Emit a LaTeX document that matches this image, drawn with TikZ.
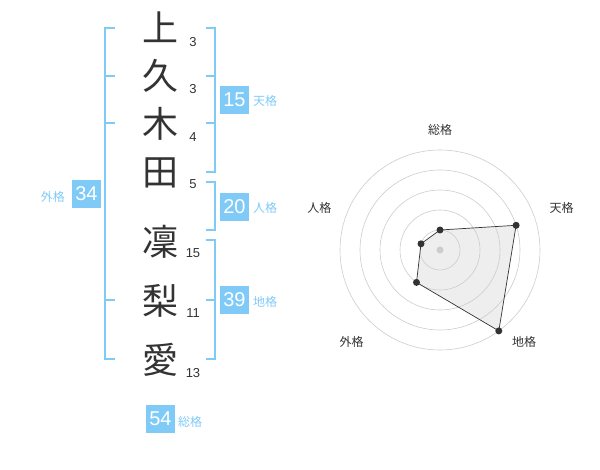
\documentclass[tikz,border=0pt]{standalone}
\usepackage{fontspec}
\setmainfont{Liberation Sans}
\newfontfamily\jp{Noto Sans CJK JP}
\definecolor{kblue}{RGB}{128,202,248}
\definecolor{kdark}{RGB}{51,51,51}
\definecolor{kgrid}{RGB}{204,204,204}
\definecolor{kfill}{RGB}{238,238,238}
\begin{document}
\begin{tikzpicture}[x=1pt,y=-1pt,
  kanji/.style={font=\jp\fontsize{36}{36}\selectfont, text=kdark, inner sep=0pt},
  strokes/.style={font=\fontsize{13}{13}\selectfont, text=kdark, inner sep=0pt},
  numbox/.style={fill=kblue, text=white, minimum width=29pt, minimum height=28pt, inner sep=0pt, font=\fontsize{20}{20}\selectfont},
  kaku/.style={font=\jp\fontsize{12}{12}\selectfont, text=kblue, inner sep=0pt},
  brk/.style={draw=kblue, line width=1.6pt},
  ring/.style={draw=kgrid, line width=0.6pt},
  axlabel/.style={font=\jp\fontsize{12}{12}\selectfont, text=kdark, inner sep=0pt},
  pt/.style={circle, fill=kdark, minimum size=7pt, inner sep=0pt}]
\useasboundingbox (0,0) rectangle (600,470);
% kanji
\node[kanji] (k1) at (160,27) {上};
\node[kanji] (k2) at (160,76) {久};
\node[kanji] (k3) at (160,124) {木};
\node[kanji] (k4) at (160,173) {田};
\node[kanji] (k5) at (160,242) {凜};
\node[kanji] (k6) at (160,301) {梨};
\node[kanji] (k7) at (160,360) {愛};
% stroke counts
\node[strokes] (s1) at (193,42) {3};
\node[strokes] (s2) at (193,89) {3};
\node[strokes] (s3) at (193,137) {4};
\node[strokes] (s4) at (193,184) {5};
\node[strokes] (s5) at (193,253) {15};
\node[strokes] (s6) at (193,313) {11};
\node[strokes] (s7) at (193,373) {13};
% left bracket (gaikaku)
\draw[brk] (115,28.3) -- (105,28.3) -- (105,359.3) -- (115,359.3);
\draw[brk] (105,76) -- (115,76);
\draw[brk] (105,123.3) -- (115,123.3);
\draw[brk] (105,300) -- (115,300);
% right brackets
\draw[brk] (205.7,28.3) -- (215,28.3) -- (215,172) -- (205.7,172);
\draw[brk] (205.7,76) -- (215,76);
\draw[brk] (205.7,123.3) -- (215,123.3);
\draw[brk] (205.7,182) -- (215,182) -- (215,230) -- (205.7,230);
\draw[brk] (205.7,240) -- (215,240) -- (215,359.3) -- (205.7,359.3);
\draw[brk] (205.7,300) -- (215,300);
% boxes and labels
\node[numbox] (b15) at (234.5,100) {15};
\node[kaku, anchor=west] (l15) at (253,101) {天格};
\node[numbox] (b20) at (234.5,207) {20};
\node[kaku, anchor=west] (l20) at (253,208) {人格};
\node[numbox] (b39) at (234.5,300) {39};
\node[kaku, anchor=west] (l39) at (253,302) {地格};
\node[numbox] (b34) at (86.5,194) {34};
\node[kaku, anchor=east] (l34) at (65,197) {外格};
\node[numbox] (b54) at (160.5,419) {54};
\node[kaku, anchor=west] (l54) at (178,422) {総格};
% radar
\coordinate (c) at (440,250);
\coordinate (pS) at (440,230);
\coordinate (pT) at (516.1,225.3);
\coordinate (pC) at (498.8,330.9);
\coordinate (pG) at (416.5,282.4);
\coordinate (pJ) at (421,243.8);
\fill[kfill] (pS) -- (pT) -- (pC) -- (pG) -- (pJ) -- cycle;
\foreach \r in {20,40,60,80,100} \draw[ring] (c) circle (\r);
\fill[kgrid] (c) circle (3.5);
\draw[kdark, line width=0.7pt] (pS) -- (pT) -- (pC) -- (pG) -- (pJ) -- cycle;
\foreach \p in {pS,pT,pC,pG,pJ} \node[pt] at (\p) {};
\node[axlabel] (aS) at (440,130) {総格};
\node[axlabel] (aT) at (561.7,208.3) {天格};
\node[axlabel] (aC) at (524,341.7) {地格};
\node[axlabel] (aG) at (351.7,341.7) {外格};
\node[axlabel] (aJ) at (319.3,208.3) {人格};
\end{tikzpicture}
\end{document}
